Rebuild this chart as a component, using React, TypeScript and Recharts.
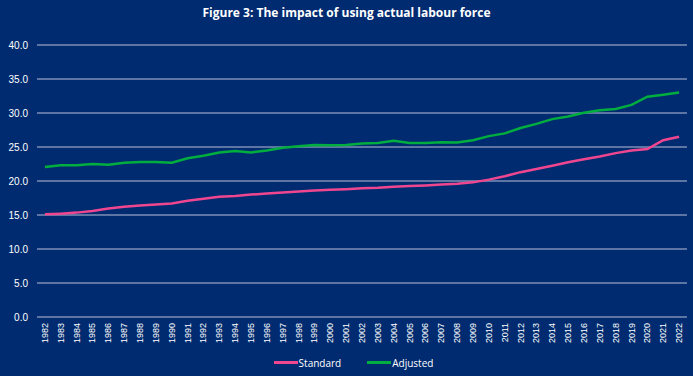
import React from "react";
import { LineChart, Line, XAxis, YAxis, CartesianGrid, Legend } from "recharts";

const years = [
  "1982","1983","1984","1985","1986","1987","1988","1989","1990","1991",
  "1992","1993","1994","1995","1996","1997","1998","1999","2000","2001",
  "2002","2003","2004","2005","2006","2007","2008","2009","2010","2011",
  "2012","2013","2014","2015","2016","2017","2018","2019","2020","2021","2022",
];

const standard = [
  15.1, 15.2, 15.35, 15.6, 15.95, 16.2, 16.4, 16.55, 16.7, 17.1,
  17.4, 17.7, 17.8, 18.0, 18.15, 18.3, 18.45, 18.6, 18.7, 18.8,
  18.95, 19.0, 19.15, 19.25, 19.35, 19.5, 19.6, 19.8, 20.2, 20.7,
  21.3, 21.75, 22.25, 22.75, 23.2, 23.6, 24.1, 24.5, 24.7, 26.0, 26.5,
];

const adjusted = [
  22.05, 22.3, 22.3, 22.5, 22.4, 22.7, 22.8, 22.8, 22.7, 23.35,
  23.7, 24.2, 24.4, 24.2, 24.5, 24.9, 25.1, 25.3, 25.25, 25.3,
  25.5, 25.6, 25.9, 25.6, 25.6, 25.7, 25.65, 26.0, 26.6, 27.0,
  27.8, 28.4, 29.1, 29.5, 30.05, 30.4, 30.6, 31.2, 32.4, 32.7, 33.0,
];

const yTicks = [0, 5, 10, 15, 20, 25, 30, 35, 40];

const title = "Figure 3: The impact of using actual labour force";
const seriesNames = { standard: "Standard", adjusted: "Adjusted" };

const BG = "#002b70";
const PINK = "#f0468f";
const GREEN = "#00ad3f";
const GRID = "#b9c1d8";

const data = years.map((y, i) => ({
  year: y,
  standard: standard[i],
  adjusted: adjusted[i],
}));

const XTick = (props: any) => {
  const { x, y, payload } = props;
  return (
    <text
      x={x}
      y={y + 6}
      transform={`rotate(-90, ${x}, ${y + 6})`}
      textAnchor="end"
      dominantBaseline="central"
      fill="#ffffff"
      fontSize={9}
      fontFamily="'Liberation Sans', Arial, sans-serif"
    >
      {payload.value}
    </text>
  );
};

const LegendContent = () => {
  const items = [
    { name: seriesNames.standard, color: PINK },
    { name: seriesNames.adjusted, color: GREEN },
  ];
  return (
    <div
      style={{
        display: "flex",
        justifyContent: "center",
        alignItems: "center",
        height: 27,
        gap: 26,
        fontFamily: "'Open Sans', sans-serif",
        fontSize: 10,
        color: "#ffffff",
        paddingLeft: 20,
      }}
    >
      {items.map((it) => (
        <div key={it.name} style={{ display: "flex", alignItems: "center" }}>
          <div style={{ width: 24, height: 3, background: it.color, marginRight: 1 }} />
          <span>{it.name}</span>
        </div>
      ))}
    </div>
  );
};

export default function App() {
  return (
    <div style={{ position: "relative", width: 693, height: 376, background: BG, overflow: "hidden" }}>
      <style>{"body{margin:0}"}</style>
      <div
        style={{
          position: "absolute",
          top: 4,
          left: 0,
          width: 693,
          textAlign: "center",
          color: "#ffffff",
          fontFamily: "'Open Sans', sans-serif",
          fontWeight: 700,
          fontSize: 12,
          lineHeight: "18px",
        }}
      >
        {title}
      </div>
      <LineChart
        width={693}
        height={376}
        data={data}
        margin={{ top: 45, right: 6, left: 0, bottom: 0 }}
      >
        <CartesianGrid vertical={false} stroke={GRID} strokeWidth={1} />
        <XAxis
          dataKey="year"
          scale="band"
          interval={0}
          height={32}
          axisLine={false}
          tickLine={false}
          tickSize={0}
          tickMargin={0}
          tick={<XTick />}
        />
        <YAxis
          width={37}
          domain={[0, 40]}
          ticks={yTicks}
          interval={0}
          axisLine={false}
          tickLine={false}
          tickSize={0}
          tickMargin={9}
          tickFormatter={(v: number) => v.toFixed(1)}
          tick={{ fill: "#ffffff", fontSize: 10, fontFamily: "'Liberation Sans', Arial, sans-serif" }}
        />
        <Legend verticalAlign="bottom" height={27} content={<LegendContent />} />
        <Line
          type="linear"
          dataKey="standard"
          name={seriesNames.standard}
          stroke={PINK}
          strokeWidth={2.5}
          dot={false}
          isAnimationActive={false}
        />
        <Line
          type="linear"
          dataKey="adjusted"
          name={seriesNames.adjusted}
          stroke={GREEN}
          strokeWidth={2.5}
          dot={false}
          isAnimationActive={false}
        />
      </LineChart>
    </div>
  );
}
